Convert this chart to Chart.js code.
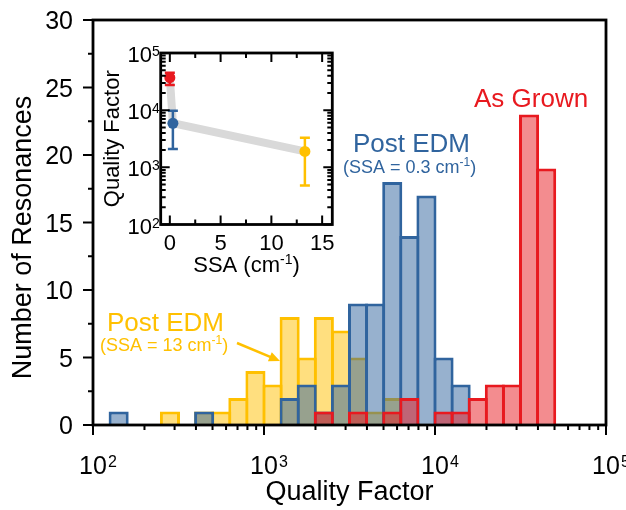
<!DOCTYPE html>
<html><head><meta charset="utf-8">
<script src="https://cdn.jsdelivr.net/npm/chart.js@4.4.1/dist/chart.umd.min.js"></script>
<style>
html,body{margin:0;padding:0;background:#fff;}
#wrap{position:relative;width:626px;height:510px;overflow:hidden;}
#main{position:absolute;left:0;top:0;}
#inset{position:absolute;left:96px;top:40px;}
</style></head><body>
<div id="wrap">
<canvas id="main" width="626" height="510"></canvas>
<canvas id="inset" width="246" height="250"></canvas>
</div>
<script>
// ---- data ----
const binLogCenters = [2.05,2.15,2.25,2.35,2.45,2.55,2.65,2.75,2.85,2.95,3.05,3.15,3.25,3.35,3.45,3.55,3.65,3.75,3.85,3.95,4.05,4.15,4.25,4.35,4.45,4.55,4.65,4.75,4.85,4.95];
const countsAsGrown = [0,0,0,0,0,0,0,0,0,0, 0,0,0,1,0,1,0,1,2,0, 1,1,2,3,3,23,19,0,0,0];
const countsEDM03   = [0,1,0,0,0,0,1,0,0,0, 0,2,3,1,3,9,9,18,14,17, 5,3,0,0,0,0,0,0,0,0];
const countsEDM13   = [0,0,0,0,1,0,1,1,2,4, 3,8,5,8,7,5,1,2,0,0, 0,0,0,0,0,0,0,0,0,0];
const xTickExponents = [2,3,4,5];
const yTicks = [0,5,10,15,20,25,30];

const insetSSA   = [0, 0.3, 13.3];
const insetQ     = [37000, 5900, 1900];
const insetQLow  = [27600, 2090, 480];
const insetQHigh = [45000, 9800, 3300];
const insetXTicks = [0,5,10,15];
const insetYTickExponents = [2,3,4,5];

const RED='#E8191F', BLUE='#30649E', YEL='#FFC000';
const FF='"Liberation Sans", Arial, sans-serif';
Chart.defaults.font.family = FF;

function drawRich(ctx, parts, x, y, align, fb, fs, raise){
  let w=0;
  parts.forEach(p=>{ctx.font=(p[1]?fs:fb)+'px '+FF; w+=ctx.measureText(p[0]).width;});
  let cx = align==='center'? x-w/2 : align==='right'? x-w : x;
  ctx.textAlign='left'; ctx.textBaseline='alphabetic';
  parts.forEach(p=>{ctx.font=(p[1]?fs:fb)+'px '+FF; ctx.fillText(p[0], cx, p[1]? y-raise : y); cx+=ctx.measureText(p[0]).width;});
  return w;
}

function barData(counts){ return binLogCenters.map((c,i)=>({x:Math.pow(10,c), y:counts[i]})); }

// ---- main chart ----
const mainDeco = {
  id:'mainDeco',
  afterDatasetsDraw(chart){
    const {ctx, chartArea:a, scales:{x,y}} = chart;
    ctx.save();
    ctx.strokeStyle='#000'; ctx.fillStyle='#000';
    ctx.lineWidth=2;
    ctx.beginPath();
    yTicks.forEach((v,i)=>{
      const py=y.getPixelForValue(v); ctx.moveTo(a.left-10,py); ctx.lineTo(a.left,py);
      if(i<yTicks.length-1){ const pm=y.getPixelForValue((v+yTicks[i+1])/2); ctx.moveTo(a.left-5,pm); ctx.lineTo(a.left,pm);}
    });
    xTickExponents.forEach((e,i)=>{
      const px=x.getPixelForValue(Math.pow(10,e)); ctx.moveTo(px,a.bottom); ctx.lineTo(px,a.bottom+10);
      if(i<xTickExponents.length-1){ for(let k=2;k<=9;k++){const pm=x.getPixelForValue(k*Math.pow(10,e)); ctx.moveTo(pm,a.bottom); ctx.lineTo(pm,a.bottom+5);} }
    });
    ctx.stroke();
    ctx.lineWidth=2.8;
    ctx.strokeRect(a.left,a.top,a.right-a.left,a.bottom-a.top);
    ctx.font='25px '+FF; ctx.textAlign='right'; ctx.textBaseline='alphabetic';
    yTicks.forEach(v=>{ ctx.fillText(String(v), a.left-20, y.getPixelForValue(v)+9); });
    xTickExponents.forEach(e=>{
      const px=x.getPixelForValue(Math.pow(10,e));
      ctx.font='25px '+FF; const w=ctx.measureText('10').width;
      ctx.textAlign='center'; ctx.fillText('10', px, 474);
      ctx.font='16px '+FF; ctx.textAlign='left'; ctx.fillText(String(e), px+w/2+1, 467);
    });
    ctx.font='27px '+FF; ctx.textAlign='center';
    ctx.fillText('Quality Factor', (a.left+a.right)/2, 500);
    ctx.save(); ctx.translate(31,(a.top+a.bottom)/2+15); ctx.rotate(-Math.PI/2);
    ctx.fillText('Number of Resonances',0,0); ctx.restore();
    ctx.fillStyle=RED; ctx.font='26px '+FF; ctx.textAlign='left';
    ctx.fillText('As Grown', 474, 107);
    ctx.fillStyle=BLUE; ctx.fillText('Post EDM', 353, 152);
    drawRich(ctx, [['(SSA = 0.3 cm',0],['-1',1],[')',0]], 343, 173, 'left', 18, 12, 7);
    ctx.fillStyle=YEL; ctx.font='26px '+FF; ctx.textAlign='left';
    ctx.fillText('Post EDM', 107, 331);
    drawRich(ctx, [['(SSA = 13 cm',0],['-1',1],[')',0]], 100, 351, 'left', 18, 12, 7);
    const x0=237,y0=343,x1=280,y1=361;
    const ang=Math.atan2(y1-y0,x1-x0);
    ctx.strokeStyle=YEL; ctx.lineWidth=2.5;
    ctx.beginPath(); ctx.moveTo(x0,y0); ctx.lineTo(x1-8*Math.cos(ang),y1-8*Math.sin(ang)); ctx.stroke();
    ctx.beginPath(); ctx.moveTo(x1,y1);
    ctx.lineTo(x1-11*Math.cos(ang)+5*Math.sin(ang), y1-11*Math.sin(ang)-5*Math.cos(ang));
    ctx.lineTo(x1-11*Math.cos(ang)-5*Math.sin(ang), y1-11*Math.sin(ang)+5*Math.cos(ang));
    ctx.closePath(); ctx.fill();
    ctx.restore();
  }
};

new Chart(document.getElementById('main'), {
  type:'bar',
  data:{datasets:[
    {label:'As Grown', data:barData(countsAsGrown), backgroundColor:'rgba(232,25,31,0.5)', borderColor:RED, order:0},
    {label:'Post EDM (SSA = 0.3 cm-1)', data:barData(countsEDM03), backgroundColor:'rgba(48,100,158,0.5)', borderColor:BLUE, order:1},
    {label:'Post EDM (SSA = 13 cm-1)', data:barData(countsEDM13), backgroundColor:'rgba(255,192,0,0.5)', borderColor:YEL, order:2}
  ]},
  options:{
    responsive:false, animation:false, devicePixelRatio:1,
    layout:{padding:{left:0,right:20,top:20,bottom:0}},
    datasets:{bar:{grouped:false, categoryPercentage:1, barPercentage:1.175, borderWidth:3, borderSkipped:'start'}},
    plugins:{legend:{display:false}, tooltip:{enabled:false}},
    scales:{
      x:{type:'logarithmic', min:100, max:100000, offset:false,
         grid:{display:false, offset:false}, border:{display:false}, ticks:{display:false},
         afterBuildTicks:s=>{s.ticks=xTickExponents.map(e=>({value:Math.pow(10,e)}));},
         afterFit:s=>{s.height=85;}},
      y:{type:'linear', min:0, max:30,
         grid:{display:false}, border:{display:false}, ticks:{display:false},
         afterBuildTicks:s=>{s.ticks=yTicks.map(v=>({value:v}));},
         afterFit:s=>{s.width=93;}}
    }
  },
  plugins:[mainDeco]
});

// ---- inset chart ----
const ptColors=[RED,BLUE,YEL];
const insetDeco = {
  id:'insetDeco',
  afterDatasetDraw(chart,args){
    if(args.index!==1) return;
    const {ctx, scales:{x,y}} = chart;
    ctx.save(); ctx.lineWidth=2.5;
    insetSSA.forEach((s,i)=>{
      const px=x.getPixelForValue(s), lo=y.getPixelForValue(insetQLow[i]), hi=y.getPixelForValue(insetQHigh[i]);
      ctx.strokeStyle=ptColors[i];
      ctx.beginPath(); ctx.moveTo(px,lo); ctx.lineTo(px,hi);
      ctx.moveTo(px-5,lo); ctx.lineTo(px+5,lo); ctx.moveTo(px-5,hi); ctx.lineTo(px+5,hi); ctx.stroke();
    });
    ctx.restore();
  },
  afterDatasetsDraw(chart){
    const {ctx, chartArea:a, scales:{x,y}} = chart;
    ctx.save(); ctx.strokeStyle='#000'; ctx.fillStyle='#000'; ctx.lineWidth=2;
    ctx.beginPath();
    insetYTickExponents.forEach((e,i)=>{
      const py=y.getPixelForValue(Math.pow(10,e));
      ctx.moveTo(a.left,py); ctx.lineTo(a.left+9,py); ctx.moveTo(a.right,py); ctx.lineTo(a.right-9,py);
      if(i<insetYTickExponents.length-1){ for(let k=2;k<=9;k++){ const pm=y.getPixelForValue(k*Math.pow(10,e));
        ctx.moveTo(a.left,pm); ctx.lineTo(a.left+5,pm); ctx.moveTo(a.right,pm); ctx.lineTo(a.right-5,pm);} }
    });
    insetXTicks.forEach((v,i)=>{
      const px=x.getPixelForValue(v);
      ctx.moveTo(px,a.bottom); ctx.lineTo(px,a.bottom-9); ctx.moveTo(px,a.top); ctx.lineTo(px,a.top+9);
      if(i<insetXTicks.length-1){ const pm=x.getPixelForValue((v+insetXTicks[i+1])/2);
        ctx.moveTo(pm,a.bottom); ctx.lineTo(pm,a.bottom-5); ctx.moveTo(pm,a.top); ctx.lineTo(pm,a.top+5);}
    });
    ctx.stroke();
    ctx.lineWidth=2.8; ctx.strokeRect(a.left,a.top,a.right-a.left,a.bottom-a.top);
    ctx.font='22px '+FF; ctx.textAlign='center'; ctx.textBaseline='alphabetic';
    insetXTicks.forEach(v=>{ ctx.fillText(String(v), x.getPixelForValue(v), 210); });
    insetYTickExponents.forEach(e=>{
      const py=y.getPixelForValue(Math.pow(10,e));
      ctx.font='14px '+FF; const ws=ctx.measureText(String(e)).width;
      ctx.textAlign='left'; ctx.fillText(String(e), a.left-1-ws, py+3);
      ctx.font='22px '+FF; ctx.textAlign='right'; ctx.fillText('10', a.left-1-ws, py+9);
    });
    drawRich(ctx, [['SSA (cm',0],['-1',1],[')',0]], (a.left+a.right)/2, 232, 'center', 22, 14, 8);
    ctx.font='22px '+FF; ctx.textAlign='center';
    ctx.save(); ctx.translate(22.6,(a.top+a.bottom)/2); ctx.rotate(-Math.PI/2);
    ctx.fillText('Quality Factor',0,0); ctx.restore();
    ctx.restore();
  }
};

new Chart(document.getElementById('inset'), {
  type:'scatter',
  data:{datasets:[
    {type:'scatter', label:'Mean Q', data:insetSSA.map((s,i)=>({x:s,y:insetQ[i]})),
     pointBackgroundColor:ptColors, pointBorderColor:ptColors, pointRadius:5.5, pointBorderWidth:0, order:0},
    {type:'line', label:'trend', data:insetSSA.map((s,i)=>({x:s,y:insetQ[i]})),
     borderColor:'#D9D9D9', borderWidth:8, pointRadius:0, tension:0, fill:false, order:1}
  ]},
  options:{
    responsive:false, animation:false, devicePixelRatio:1,
    layout:{padding:{left:0,right:9.7,top:13,bottom:0}},
    plugins:{legend:{display:false}, tooltip:{enabled:false}},
    scales:{
      x:{type:'linear', min:-0.9, max:16, grid:{display:false}, border:{display:false}, ticks:{display:false},
         afterBuildTicks:s=>{s.ticks=insetXTicks.map(v=>({value:v}));},
         afterFit:s=>{s.height=65.5;}},
      y:{type:'logarithmic', min:100, max:100000, grid:{display:false}, border:{display:false}, ticks:{display:false},
         afterBuildTicks:s=>{s.ticks=insetYTickExponents.map(e=>({value:Math.pow(10,e)}));},
         afterFit:s=>{s.width=64.7;}}
    }
  },
  plugins:[insetDeco]
});
</script>
</body></html>
